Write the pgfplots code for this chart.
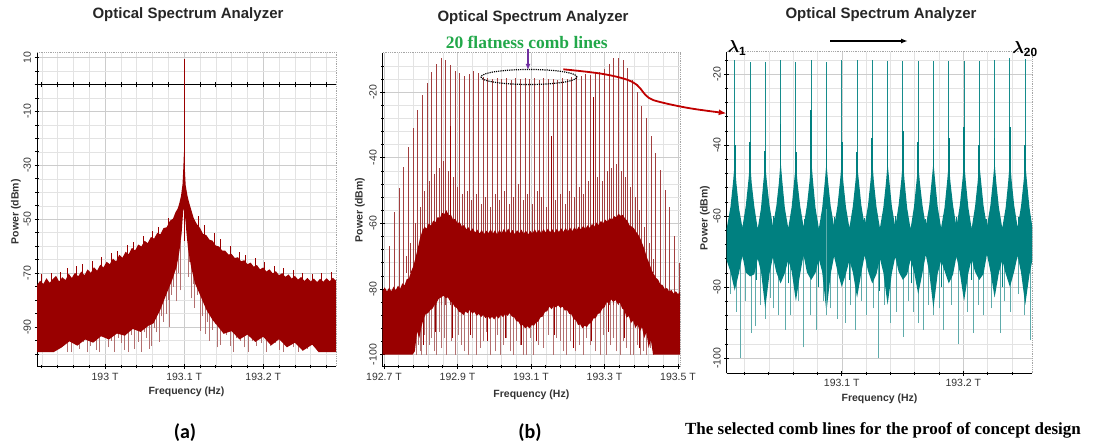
\documentclass[border=0pt]{standalone}
\usepackage{fontspec}
\setmainfont{Liberation Sans}
\newfontfamily\tnr{Liberation Serif}
\newfontfamily\carlito{Carlito}
\usepackage{amsmath,bm}
\usepackage{pgfplots}
\pgfplotsset{compat=1.18}
\usetikzlibrary{arrows.meta}
\definecolor{osared}{HTML}{990000}
\definecolor{osaspike}{HTML}{B37070}
\definecolor{combred}{HTML}{A23E3E}
\definecolor{osateal}{HTML}{008080}
\definecolor{combteal}{HTML}{178C8C}
\definecolor{tealspike}{HTML}{5EABAB}
\definecolor{flatgreen}{HTML}{22A84A}
\definecolor{arrowred}{HTML}{C00000}
\definecolor{arrowpurple}{HTML}{7030A0}

\pgfplotsset{
  osa/.style={
    scale only axis, anchor=south west,
    axis x line*=bottom, axis y line*=left,
    axis line style={black, line width=0.9pt, -},
    tick align=center,
    major tick length=5pt, minor tick length=3.5pt,
    every tick/.style={black, line width=0.6pt},
    grid=both,
    major grid style={gray!40, line width=0.45pt},
    minor grid style={gray!22, line width=0.4pt},
    tick label style={font=\fontsize{10.5}{11}\selectfont, text=black!80},
    yticklabel style={rotate=90, anchor=south},
    label style={font=\bfseries\fontsize{10.5}{11}\selectfont, text=black!80},
    xlabel={Frequency (Hz)}, ylabel={Power (dBm)},
  },
  spike/.style={quiver={u=0, v={\thisrow{t}-\thisrow{b}}, every arrow/.append style={-}}},
}

\begin{document}
\begin{tikzpicture}
% ---------------- (a) ----------------
\begin{axis}[osa, name=A, at={(37pt,80.3pt)}, width=299pt, height=314.7pt,
  xmin=192.914, xmax=193.292, ymin=-104.7, ymax=12,
  xtick={193,193.1,193.2}, xticklabels={193 T,193.1 T,193.2 T},
  minor xtick={192.92,192.94,...,193.28},
  ytick={-90,-70,-50,-30,-10,10}, yticklabels={-90,-70,-50,-30,-10,10},
  minor ytick={-100,-95,...,10},
  extra y ticks={0}, extra y tick labels={},
  extra y tick style={major grid style={black, line width=1.1pt}},
  xlabel style={at={(axis description cs:0.5,-0.0794)}, anchor=center},
  ylabel style={at={(axis description cs:-0.0702,0.4925)}, anchor=center},
]
% small ticks on the 0 dBm line
\addplot[black, line width=0.6pt, spike] table[x=f, y=b] {
f b t
192.92 -1 1
192.94 -1 1
192.96 -1 1
192.98 -1 1
193.00 -1 1
193.02 -1 1
193.04 -1 1
193.06 -1 1
193.08 -1 1
193.10 -1 1
193.12 -1 1
193.14 -1 1
193.16 -1 1
193.18 -1 1
193.20 -1 1
193.22 -1 1
193.24 -1 1
193.26 -1 1
193.28 -1 1
};
% light spikes below the noise
\addplot[osaspike, line width=0.7pt, spike] table[x=f, y=b] {
f b t
192.9173 -99.3 -90
192.9205 -96.0 -90
192.9237 -97.0 -90
192.9290 -99.3 -90
192.9342 -99.3 -90
192.9400 -95.0 -88
192.9468 -96.5 -88
192.9520 -99.3 -88
192.9575 -99.3 -88
192.9630 -94.5 -88
192.9680 -98.0 -88
192.9725 -95.5 -88
192.9772 -99.3 -88
192.9810 -97.0 -86
192.9848 -95.5 -86
192.9890 -98.5 -86
192.9933 -99.3 -86
192.9985 -93.5 -86
193.0038 -97.5 -86
193.0080 -95.0 -86
193.0123 -99.3 -86
193.0165 -94.0 -86
193.0208 -96.0 -86
193.0250 -98.5 -84
193.0291 -99.3 -84
193.0335 -93.0 -84
193.0376 -98.0 -84
193.0420 -95.5 -84
193.0461 -99.3 -84
193.0495 -92.0 -84
193.0524 -94.0 -84
193.0560 -98.0 -82
193.0587 -97.0 -82
193.0620 -90.5 -80
193.0651 -92.0 -80
193.0692 -95.5 -78
193.0712 -86.0 -76
193.0734 -88.0 -74
193.0777 -85.0 -72
193.0800 -80.0 -70
193.0819 -90.0 -70
193.0840 -78.0 -68
193.0861 -75.0 -66
193.0904 -80.5 -62
193.0925 -70.0 -60
193.0946 -76.4 -58
193.1051 -71.4 -58
193.1072 -66.0 -58
193.1094 -79.4 -62
193.1115 -74.0 -64
193.1135 -83.0 -70
193.1165 -78.0 -72
193.1199 -91.4 -74
193.1230 -86.0 -76
193.1262 -92.6 -78
193.1295 -88.0 -80
193.1325 -95.0 -82
193.1360 -91.0 -84
193.1389 -89.0 -84
193.1420 -97.5 -86
193.1452 -96.5 -86
193.1495 -92.0 -88
193.1537 -93.0 -88
193.1580 -97.0 -88
193.1620 -99.3 -88
193.1660 -94.0 -88
193.1705 -95.0 -88
193.1760 -97.5 -88
193.1810 -99.3 -88
193.1860 -95.0 -88
193.1916 -97.0 -88
193.1980 -96.0 -88
193.2043 -99.3 -88
193.2095 -97.0 -88
193.2148 -96.0 -88
193.2200 -98.5 -88
193.2253 -99.3 -88
193.2310 -97.0 -88
193.2380 -97.5 -88
193.2440 -99.3 -88
193.2560 -98.0 -88
};
% noise body
\addplot[draw=none, fill=osared] table[x=f, y=p] {
f p
192.914 -74.5
192.918 -72.8
192.922 -74.0
192.926 -71.9
192.930 -73.6
192.934 -72.2
192.938 -71.0
192.942 -73.1
192.946 -71.5
192.950 -72.6
192.954 -70.2
192.958 -71.8
192.962 -69.9
192.966 -71.2
192.970 -69.4
192.974 -70.8
192.978 -68.6
192.982 -69.9
192.986 -67.8
192.990 -69.1
192.994 -66.9
192.998 -67.9
193.002 -65.8
193.006 -66.7
193.010 -64.6
193.014 -65.7
193.018 -63.2
193.022 -64.3
193.026 -62.1
193.030 -63.0
193.034 -60.6
193.038 -61.6
193.042 -59.4
193.046 -60.1
193.050 -58.0
193.054 -58.9
193.058 -56.6
193.062 -57.2
193.066 -55.1
193.070 -55.6
193.074 -53.3
193.078 -53.0
193.082 -50.6
193.086 -49.8
193.089 -47.5
193.092 -46.0
193.094 -44.0
193.096 -41.5
193.098 -37.0
193.099 -31.0
193.0995 -27.0
193.100 -24.5
193.1005 -27.5
193.101 -32.0
193.102 -37.5
193.104 -41.0
193.106 -43.5
193.109 -46.5
193.112 -49.5
193.116 -51.8
193.120 -53.2
193.124 -55.5
193.128 -55.9
193.132 -57.6
193.136 -58.0
193.140 -59.8
193.144 -60.1
193.148 -61.6
193.152 -61.7
193.156 -63.1
193.160 -62.9
193.164 -64.4
193.168 -64.1
193.172 -65.6
193.176 -65.2
193.180 -66.7
193.184 -66.1
193.188 -67.6
193.192 -67.0
193.196 -68.6
193.200 -67.9
193.204 -69.4
193.208 -68.6
193.212 -70.1
193.216 -69.3
193.220 -70.8
193.224 -70.0
193.228 -71.4
193.232 -70.5
193.236 -72.0
193.240 -71.0
193.244 -72.4
193.248 -71.4
193.252 -72.9
193.256 -71.8
193.260 -73.1
193.264 -72.0
193.268 -73.3
193.272 -72.1
193.276 -73.2
193.280 -71.9
193.284 -73.0
193.288 -71.7
193.292 -72.8
193.292 -99.3
193.270 -99.3
193.262 -96.5
193.250 -98.8
193.240 -95.8
193.230 -97.5
193.220 -94.5
193.210 -96.8
193.200 -93.6
193.190 -95.5
193.180 -92.8
193.170 -94.6
193.160 -91.5
193.150 -92.5
193.142 -89.5
193.136 -87.4
193.128 -83.5
193.120 -78.0
193.114 -74.0
193.109 -68.0
193.105 -61.0
193.103 -55.3
193.1015 -50.0
193.100 -46.0
193.0988 -47.0
193.0968 -55.3
193.094 -62.0
193.0905 -67.7
193.085 -72.5
193.078 -77.5
193.070 -83.5
193.0613 -88.6
193.055 -89.5
193.045 -91.8
193.035 -90.7
193.025 -93.2
193.015 -92.4
193.005 -94.6
192.995 -93.4
192.985 -95.8
192.975 -94.6
192.965 -96.9
192.955 -95.3
192.945 -97.6
192.935 -99.3
192.914 -99.3
};
% ragged top of the noise
\addplot[osared, line width=0.8pt, spike] table[x=f, y=b] {
f b t
192.920 -76 -70.5
192.932 -75 -70.0
192.944 -74 -69.5
192.952 -73 -68.0
192.964 -72 -67.4
192.972 -71 -66.5
192.984 -70 -65.6
192.996 -69 -64.0
193.008 -67 -62.5
193.016 -66 -61.8
193.028 -64 -59.5
193.036 -63 -58.6
193.048 -61 -56.4
193.060 -59 -54.5
193.068 -57 -52.8
193.080 -54 -49.5
193.118 -55 -49.0
193.126 -57 -52.0
193.138 -60 -55.2
193.146 -62 -57.5
193.158 -64 -59.8
193.170 -66 -62.0
193.178 -67 -63.2
193.190 -69 -64.5
193.202 -70 -66.0
193.214 -71 -67.3
193.226 -72 -68.2
193.238 -73 -69.0
193.250 -74 -69.8
193.262 -74 -70.2
193.274 -74 -70.0
193.286 -74 -69.6
};
% carrier line
\addplot[osared, line width=0.8pt, spike] table[x=f, y=b] {
f b t
193.100 -58 9.3
};
\end{axis}
\draw[densely dotted, gray!70, line width=0.8pt] (A.north west) -- (A.north east) -- (A.south east);

% ---------------- (b) ----------------
\begin{axis}[osa, name=B, at={(382.7pt,80.3pt)}, width=297.3pt, height=314pt,
  xmin=192.6965, xmax=193.5054, ymin=-103.7, ymax=-8,
  xtick={192.7,192.9,193.1,193.3,193.5},
  xticklabels={192.7 T,192.9 T,193.1 T,193.3 T,193.5 T},
  minor xtick={192.74,192.78,...,193.46},
  ytick={-100,-80,-60,-40,-20}, yticklabels={-100,-80,-60,-40,-20},
  minor ytick={-100,-96,...,-12},
  xlabel style={at={(axis description cs:0.5,-0.09)}, anchor=center},
  ylabel style={at={(axis description cs:-0.0764,0.499)}, anchor=center},
]
% light spikes below the noise
\addplot[osaspike, line width=0.7pt, quiver={u=0, v={-78-\thisrow{b}}, every arrow/.append style={-}}] table[x=f, y=b] {
f b
192.7889 -100
192.7935 -97
192.7980 -99
192.8025 -100
192.8095 -94
192.8161 -100
192.8230 -97
192.8297 -95
192.8365 -99
192.8433 -100
192.8500 -93
192.8569 -98
192.8640 -95
192.8705 -100
192.8820 -96
192.8932 -100
192.9020 -94
192.9113 -97
192.9200 -99
192.9295 -100
192.9410 -95
192.9522 -100
192.9610 -98
192.9703 -96
192.9790 -93
192.9884 -100
193.0020 -99
193.0090 -94
193.0156 -100
193.0250 -97
193.0338 -95
193.0430 -99
193.0519 -100
193.0610 -96
193.0701 -97
193.0790 -100
193.0882 -100
193.0970 -95
193.1063 -100
193.1200 -97
193.1336 -98
193.1470 -94
193.1608 -100
193.1700 -95
193.1789 -96
193.1880 -99
193.1970 -100
193.2080 -96
193.2197 -99
193.2310 -97
193.2424 -100
193.2515 -95
193.2605 -97
193.2740 -99
193.2878 -100
193.2970 -94
193.3059 -100
193.3150 -97
193.3240 -95
193.3330 -99
193.3422 -100
193.3510 -96
193.3603 -98
193.3700 -100
193.3785 -100
193.3880 -97
193.3966 -100
193.4060 -99
193.4147 -100
193.4240 -98
193.4329 -100
};
% comb lines
\addplot[combred, line width=0.9pt, quiver={u=0, v={\thisrow{t}+85}, every arrow/.append style={-}}] table[x=f, y expr=-85] {
f t
192.7033 -80.0
192.7160 -67.0
192.7287 -56.6
192.7414 -49.3
192.7541 -42.9
192.7668 -36.8
192.7795 -31.0
192.7922 -25.5
192.8049 -20.9
192.8176 -17.2
192.8303 -13.8
192.8430 -11.3
192.8557 -9.7
192.8684 -10.2
192.8811 -11.8
192.8938 -13.5
192.9065 -14.3
192.9192 -15.1
192.9319 -14.5
192.9446 -13.5
192.9573 -14.3
192.9700 -15.3
192.9827 -15.8
192.9954 -16.0
193.0081 -15.6
193.0208 -16.1
193.0335 -15.7
193.0462 -16.2
193.0589 -15.8
193.0716 -16.0
193.0843 -15.6
193.0970 -16.1
193.1097 -15.8
193.1224 -16.2
193.1351 -15.7
193.1478 -16.0
193.1605 -15.9
193.1732 -16.3
193.1859 -15.8
193.1986 -15.9
193.2113 -15.5
193.2240 -15.4
193.2367 -15.0
193.2494 -14.6
193.2621 -14.8
193.2748 -14.2
193.2875 -13.8
193.3002 -13.0
193.3129 -11.5
193.3256 -9.7
193.3383 -9.5
193.3510 -10.2
193.3637 -12.7
193.3764 -16.3
193.3891 -19.9
193.4018 -24.3
193.4145 -28.0
193.4272 -33.4
193.4399 -38.6
193.4526 -43.8
193.4653 -49.9
193.4780 -55.0
193.4907 -64.0
193.5034 -72.0
};
% secondary lines between the comb lines
\addplot[combred, line width=0.8pt, quiver={u=0, v={\thisrow{t}+75}, every arrow/.append style={-}}] table[x=f, y expr=-75] {
f t
192.7605 -70
192.7732 -66
192.7859 -60
192.7986 -55
192.8113 -50
192.8240 -47
192.8367 -45
192.8494 -43
192.8621 -41
192.8748 -44
192.8875 -46
192.9002 -49
192.9129 -51
192.9256 -50
192.9383 -53
192.9510 -51
192.9637 -54
192.9764 -52
192.9891 -55
193.0018 -51
193.0145 -53
193.0272 -50
193.0399 -54
193.0526 -52
193.0653 -48
193.0780 -53
193.0907 -51
193.1034 -54
193.1161 -50
193.1288 -52
193.1415 -55
193.1542 -49
193.1669 -53
193.1796 -51
193.1923 -54
193.2050 -50
193.2177 -52
193.2304 -49
193.2431 -51
193.2558 -47
193.2685 -49
193.2812 -46
193.2939 -47
193.3066 -44
193.3193 -43
193.3320 -42
193.3447 -44
193.3574 -46
193.3701 -49
193.3828 -52
193.3955 -56
193.4082 -61
193.4209 -66
193.4336 -71
};
% noise body
\addplot[draw=none, fill=osared] table[x=f, y=p] {
f p
192.6965 -80.6
192.702 -79.5
192.708 -80.8
192.714 -79.6
192.720 -80.7
192.726 -79.3
192.732 -80.4
192.738 -79.0
192.744 -79.9
192.750 -78.3
192.756 -78.9
192.762 -77.0
192.768 -76.8
192.774 -74.6
192.780 -73.0
192.786 -70.4
192.792 -67.6
192.798 -64.5
192.804 -62.5
192.810 -61.0
192.816 -61.6
192.822 -60.0
192.828 -60.7
192.834 -59.2
192.840 -59.7
192.846 -58.1
192.852 -58.4
192.858 -56.8
192.864 -57.2
192.870 -56.0
192.876 -57.6
192.882 -57.3
192.888 -58.9
192.894 -58.6
192.900 -60.0
192.906 -59.6
192.912 -61.0
192.918 -60.5
192.924 -61.8
192.930 -61.2
192.936 -62.4
192.942 -61.5
192.948 -62.8
192.954 -61.9
192.960 -63.1
192.966 -62.0
192.972 -63.3
192.978 -62.2
192.984 -63.0
192.990 -61.8
192.996 -63.2
193.002 -62.1
193.008 -63.4
193.014 -62.0
193.020 -63.1
193.026 -61.7
193.032 -62.9
193.038 -61.6
193.044 -63.0
193.050 -62.0
193.056 -63.3
193.062 -62.1
193.068 -63.0
193.074 -61.9
193.080 -63.2
193.086 -62.2
193.092 -63.4
193.098 -62.3
193.104 -63.1
193.110 -61.8
193.116 -62.9
193.122 -61.9
193.128 -63.0
193.134 -61.7
193.140 -62.8
193.146 -61.6
193.152 -62.7
193.158 -61.8
193.164 -62.9
193.170 -61.7
193.176 -62.6
193.182 -61.5
193.188 -62.6
193.194 -61.4
193.200 -62.5
193.206 -61.3
193.212 -62.4
193.218 -61.2
193.224 -62.1
193.230 -61.0
193.236 -61.9
193.242 -60.8
193.248 -61.7
193.254 -60.6
193.260 -61.4
193.266 -60.2
193.272 -61.0
193.278 -59.8
193.284 -60.5
193.290 -59.3
193.296 -60.0
193.302 -58.9
193.308 -59.5
193.314 -58.4
193.320 -58.9
193.326 -57.8
193.332 -58.2
193.338 -57.1
193.344 -57.7
193.350 -57.4
193.356 -58.6
193.362 -59.2
193.368 -60.6
193.374 -61.0
193.380 -61.5
193.386 -62.6
193.392 -63.5
193.398 -64.8
193.404 -66.5
193.410 -68.4
193.416 -70.6
193.422 -72.2
193.428 -74.2
193.434 -75.4
193.440 -76.6
193.446 -77.2
193.452 -78.6
193.458 -78.8
193.464 -80.0
193.470 -79.7
193.476 -80.8
193.482 -80.3
193.488 -81.4
193.494 -80.7
193.500 -81.6
193.5054 -80.9
193.5054 -100
193.432 -100
193.426 -95.5
193.420 -98.0
193.414 -93.2
193.408 -95.0
193.402 -91.6
193.396 -93.0
193.390 -90.8
193.384 -91.9
193.378 -89.6
193.372 -90.4
193.366 -88.2
193.360 -88.8
193.354 -86.4
193.348 -86.0
193.342 -84.2
193.336 -84.6
193.330 -83.4
193.324 -84.0
193.318 -83.2
193.312 -84.4
193.306 -84.0
193.300 -85.6
193.294 -86.0
193.288 -87.4
193.282 -87.6
193.276 -88.9
193.270 -89.0
193.264 -90.4
193.258 -90.6
193.252 -91.6
193.246 -91.2
193.240 -92.0
193.234 -90.8
193.228 -91.0
193.222 -89.5
193.216 -89.2
193.210 -87.8
193.204 -87.6
193.198 -86.4
193.192 -86.6
193.186 -85.4
193.180 -85.8
193.174 -85.0
193.168 -85.6
193.162 -85.2
193.156 -86.2
193.150 -85.4
193.144 -86.8
193.138 -87.0
193.132 -88.4
193.126 -88.6
193.120 -89.9
193.114 -90.2
193.108 -91.2
193.102 -91.0
193.096 -92.0
193.090 -91.4
193.084 -92.0
193.078 -91.0
193.072 -91.2
193.066 -90.0
193.060 -89.8
193.054 -88.6
193.048 -88.4
193.042 -87.4
193.036 -88.2
193.030 -87.6
193.024 -88.6
193.018 -87.9
193.012 -89.0
193.006 -88.3
193.000 -89.3
192.994 -88.5
192.988 -89.2
192.982 -88.2
192.976 -88.9
192.970 -87.9
192.964 -88.6
192.958 -87.6
192.952 -88.2
192.946 -87.0
192.940 -87.5
192.934 -86.3
192.928 -87.4
192.922 -86.9
192.916 -88.0
192.910 -87.2
192.904 -87.0
192.898 -85.8
192.892 -85.4
192.886 -84.2
192.880 -83.8
192.874 -82.6
192.868 -82.8
192.862 -82.0
192.856 -82.6
192.850 -82.8
192.844 -84.0
192.838 -84.8
192.832 -86.0
192.826 -86.4
192.820 -87.4
192.814 -87.6
192.808 -89.0
192.802 -91.5
192.796 -95.0
192.790 -93.0
192.784 -99.0
192.778 -100
192.6965 -100
};
% dark streaks reaching below the noise body
\addplot[osared, line width=0.8pt, spike] table[x=f, y=b] {
f b t
192.8060 -97 -85
192.8400 -93 -80
192.8860 -95 -80
192.9350 -94 -82
192.9800 -96 -84
193.0300 -95 -84
193.0750 -97 -86
193.1150 -96 -86
193.1650 -94 -82
193.2150 -98 -86
193.2650 -96 -86
193.3100 -93 -80
193.3550 -95 -82
193.3950 -98 -88
};
% darker overlapping lines
\addplot[osared, line width=0.9pt, spike] table[x=f, y=b] {
f b t
192.8796 -70 -30.4
193.1544 -70 -33.5
193.2698 -70 -21.5
};
\end{axis}
\draw[densely dotted, gray!70, line width=0.8pt] (B.north west) -- (B.north east) -- (B.south east);

% ---------------- (c) ----------------
\begin{axis}[osa, name=C, at={(726.7pt,73.7pt)}, width=305.6pt, height=321.6pt,
  xmin=193.0054, xmax=193.2567, ymin=-104.3, ymax=-13.7,
  xtick={193.1,193.2}, xticklabels={193.1 T,193.2 T},
  minor xtick={193.02,193.04,...,193.24},
  ytick={-100,-80,-60,-40,-20}, yticklabels={-100,-80,-60,-40,-20},
  minor ytick={-100,-96,...,-16},
  xlabel style={at={(axis description cs:0.5,-0.080)}, anchor=center},
  ylabel style={at={(axis description cs:-0.071,0.483)}, anchor=center},
]
% light spikes below the band
\addplot[tealspike, line width=0.7pt, quiver={u=0, v={-70-\thisrow{b}}, every arrow/.append style={-}}] table[x=f, y=b] {
f b
193.0080 -82
193.0130 -87
193.0164 -100
193.0205 -84
193.0260 -93
193.0287 -91
193.0330 -85
193.0369 -89
193.0410 -83
193.0438 -86
193.0480 -88
193.0534 -92
193.0575 -88
193.0640 -84
193.0684 -97
193.0739 -88
193.0789 -92
193.0850 -84
193.0904 -86
193.0960 -89
193.1027 -90
193.1070 -85
193.1115 -92
193.1160 -84
193.1206 -88
193.1260 -86
193.1301 -100
193.1350 -85
193.1397 -90
193.1450 -87
193.1507 -94
193.1550 -84
193.1589 -87
193.1630 -90
193.1671 -92
193.1710 -85
193.1753 -88
193.1800 -86
193.1836 -92
193.1900 -85
193.1959 -96
193.2030 -87
193.2082 -93
193.2120 -85
193.2164 -88
193.2230 -86
193.2302 -93
193.2340 -84
193.2384 -87
193.2452 -82
193.2500 -88
193.2548 -95
};
% comb lines, thin part to the top
\addplot[combteal, line width=1pt, quiver={u=0, v={\thisrow{t}+60}, every arrow/.append style={-}}] table[x=f, y expr=-60] {
f t
193.0120 -16.1
193.0246 -16.5
193.0371 -16.5
193.0497 -16.1
193.0623 -16.7
193.0749 -15.9
193.0874 -16.7
193.1000 -16.1
193.1126 -16.1
193.1251 -16.1
193.1377 -16.3
193.1503 -16.3
193.1629 -16.3
193.1754 -16.3
193.1880 -16.3
193.2006 -16.3
193.2131 -16.3
193.2257 -16.1
193.2383 -15.4
193.2509 -15.8
};
% comb lines, wider lower part
\addplot[osateal, line width=1.7pt, quiver={u=0, v={\thisrow{t}+60}, every arrow/.append style={-}}] table[x=f, y expr=-60] {
f t
193.0120 -40
193.0246 -39
193.0371 -41.7
193.0497 -34
193.0623 -42
193.0749 -30
193.0874 -41
193.1000 -39
193.1126 -42
193.1251 -38
193.1377 -40
193.1503 -36
193.1629 -39
193.1754 -41
193.1880 -38
193.2006 -35
193.2131 -40
193.2257 -38
193.2383 -35
193.2509 -40
};
% noise band
\addplot[draw=none, fill=osateal] table[x=f, y=p] {
f p
193.0054 -63.5
193.0085 -57.4
193.0106 -50.5
193.0120 -45.0
193.0134 -50.8
193.0155 -57.8
193.0183 -63.2
193.0211 -57.1
193.0232 -50.2
193.0246 -44.6
193.0260 -50.9
193.0281 -57.3
193.0309 -63.6
193.0336 -57.8
193.0357 -49.8
193.0371 -45.5
193.0385 -50.6
193.0406 -57.0
193.0434 -62.8
193.0462 -57.2
193.0483 -50.7
193.0497 -44.4
193.0511 -50.1
193.0532 -57.7
193.0560 -63.4
193.0588 -57.5
193.0609 -50.0
193.0623 -45.2
193.0637 -50.8
193.0658 -57.1
193.0686 -63.0
193.0714 -56.9
193.0735 -50.3
193.0749 -44.0
193.0763 -49.9
193.0784 -57.6
193.0812 -63.5
193.0839 -57.8
193.0860 -50.6
193.0874 -45.0
193.0888 -50.4
193.0909 -57.2
193.0937 -62.9
193.0965 -57.1
193.0986 -50.1
193.1000 -44.7
193.1014 -50.7
193.1035 -57.6
193.1063 -63.3
193.1091 -57.3
193.1112 -50.5
193.1126 -45.3
193.1140 -49.8
193.1161 -56.9
193.1188 -62.7
193.1216 -57.0
193.1237 -49.9
193.1251 -44.5
193.1265 -50.6
193.1286 -57.5
193.1314 -63.4
193.1342 -57.6
193.1363 -50.8
193.1377 -45.1
193.1391 -50.0
193.1412 -57.2
193.1440 -63.1
193.1468 -56.8
193.1489 -50.1
193.1503 -44.3
193.1517 -50.3
193.1538 -57.8
193.1566 -63.6
193.1594 -57.4
193.1615 -50.2
193.1629 -45.4
193.1643 -50.7
193.1664 -57.0
193.1691 -62.8
193.1719 -57.2
193.1740 -49.8
193.1754 -44.8
193.1768 -50.1
193.1789 -57.4
193.1817 -63.3
193.1845 -57.7
193.1866 -50.5
193.1880 -45.0
193.1894 -50.5
193.1915 -56.9
193.1943 -63.0
193.1971 -57.0
193.1992 -50.0
193.2006 -44.6
193.2020 -50.2
193.2041 -57.6
193.2068 -63.5
193.2096 -57.4
193.2117 -50.6
193.2131 -45.2
193.2145 -49.9
193.2166 -57.1
193.2194 -62.9
193.2222 -57.1
193.2243 -50.1
193.2257 -44.9
193.2271 -50.6
193.2292 -57.5
193.2320 -63.4
193.2348 -57.6
193.2369 -50.3
193.2383 -44.0
193.2397 -50.0
193.2418 -57.0
193.2446 -63.1
193.2474 -57.3
193.2495 -50.4
193.2509 -45.1
193.2523 -50.3
193.2544 -57.7
193.2567 -63.0
193.2567 -72.5
193.2544 -76.4
193.2509 -85.0
193.2474 -75.8
193.2446 -71.2
193.2418 -75.6
193.2383 -80.0
193.2348 -76.2
193.2320 -72.4
193.2292 -76.0
193.2257 -83.0
193.2222 -75.5
193.2194 -70.8
193.2166 -76.3
193.2131 -78.0
193.2096 -75.7
193.2068 -72.1
193.2041 -76.1
193.2006 -84.0
193.1971 -75.9
193.1943 -71.4
193.1915 -76.5
193.1880 -79.0
193.1845 -75.4
193.1817 -72.6
193.1789 -76.2
193.1754 -86.0
193.1719 -75.8
193.1691 -70.9
193.1664 -76.0
193.1629 -82.0
193.1594 -75.6
193.1566 -72.3
193.1538 -76.4
193.1503 -78.0
193.1468 -75.7
193.1440 -71.5
193.1412 -76.1
193.1377 -85.0
193.1342 -75.9
193.1314 -72.0
193.1286 -76.3
193.1251 -79.0
193.1216 -75.5
193.1188 -71.1
193.1161 -76.0
193.1126 -83.0
193.1091 -75.8
193.1063 -72.5
193.1035 -76.2
193.1000 -80.0
193.0965 -75.6
193.0937 -71.3
193.0909 -76.4
193.0874 -87.0
193.0839 -75.7
193.0812 -72.2
193.0784 -76.0
193.0749 -78.0
193.0714 -75.9
193.0686 -71.0
193.0658 -76.3
193.0623 -84.0
193.0588 -75.5
193.0560 -72.4
193.0532 -76.1
193.0497 -79.0
193.0462 -75.8
193.0434 -71.6
193.0406 -76.2
193.0371 -86.0
193.0336 -75.6
193.0309 -72.0
193.0281 -76.4
193.0246 -77.0
193.0211 -75.9
193.0183 -71.2
193.0155 -76.0
193.0120 -81.0
193.0085 -75.7
193.0054 -72.5
};
% short dark streaks at the band edges
\addplot[osateal, line width=0.8pt, spike] table[x=f, y=b] {
f b t
193.0150 -66 -60.5
193.0300 -78 -68
193.0440 -66 -60.0
193.0560 -79 -69
193.0690 -66 -60.8
193.0810 -80 -69
193.0940 -66 -60.2
193.1060 -78 -68
193.1190 -66 -60.6
193.1310 -81 -69
193.1440 -66 -60.1
193.1570 -79 -69
193.1690 -66 -60.7
193.1820 -80 -69
193.1940 -66 -60.3
193.2070 -78 -68
193.2190 -66 -60.9
193.2320 -80 -69
193.2450 -66 -60.4
};
% one line drawn lighter over the band
\addplot[tealspike, line width=0.8pt, spike] table[x=f, y=b] {
f b t
193.0874 -88 -58
};
\end{axis}
\draw[densely dotted, gray!70, line width=0.8pt] (C.north west) -- (C.north east) -- (C.south east);

% ---------------- text and arrows ----------------
\begin{scope}[every node/.style={font=\bfseries\fontsize{15}{15}\selectfont, text=black!85}]
\node at (188pt,432pt) {Optical Spectrum Analyzer};
\node at (533pt,429pt) {Optical Spectrum Analyzer};
\node at (881pt,432pt) {Optical Spectrum Analyzer};
\end{scope}
\node[font=\tnr\bfseries\fontsize{17.5}{18}\selectfont, text=flatgreen] at (526.7pt,404.3pt) {20 flatness comb lines};
\draw[arrowpurple, line width=1.5pt, -{Latex[length=6pt,width=5pt]}] (528pt,398pt) -- (528pt,377pt);
\draw[black, line width=1.2pt, densely dotted] (529pt,370pt) ellipse [x radius=48pt, y radius=7.5pt];
\draw[arrowred, line width=1.8pt, -{Latex[length=8pt,width=6pt]}]
  plot[smooth, tension=0.6] coordinates {(563.3pt,377.7pt) (600pt,373.5pt) (625pt,368pt) (637pt,362pt) (643pt,355pt) (649pt,349pt) (660pt,345pt) (690pt,338.7pt) (726.7pt,333.7pt)};
\draw[black, line width=1.5pt, -{Latex[length=7pt,width=5pt]}] (830pt,406pt) -- (908pt,406pt);
\node[font=\fontsize{17}{17}\selectfont] at (737pt,399pt) {$\boldsymbol{\lambda}_{\mathbf{1}}$};
\node[font=\fontsize{17}{17}\selectfont] at (1025pt,398pt) {$\boldsymbol{\lambda}_{\mathbf{20}}$};
\node[font=\carlito\bfseries\fontsize{20}{20}\selectfont] at (185pt,14pt) {(a)};
\node[font=\carlito\bfseries\fontsize{20}{20}\selectfont] at (530pt,14pt) {(b)};
\node[font=\tnr\bfseries\fontsize{17}{17}\selectfont] at (883pt,17pt) {The selected comb lines for the proof of concept design};
\pgfresetboundingbox
\path[use as bounding box] (0,0) rectangle (1093pt,447pt);
\end{tikzpicture}
\end{document}
